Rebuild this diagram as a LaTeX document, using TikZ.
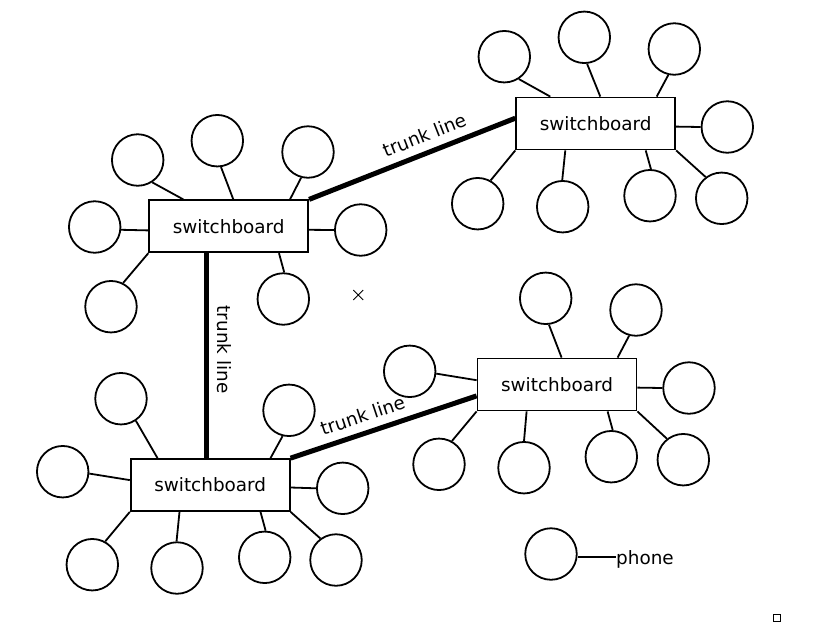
\documentclass[tikz,border=0pt]{standalone}
\usepackage{fontspec}
\setmainfont{DejaVu Sans}
\usetikzlibrary{calc,shapes.misc}
\tikzset{
  phone/.style={circle, draw, line width=1.8pt, minimum size=51.5pt, inner sep=0pt},
  sb/.style={rectangle, draw, line width=1.8pt, minimum width=159pt, minimum height=52pt, inner sep=0pt, font=\fontsize{18.4}{22}\selectfont},
  wire/.style={line width=1.8pt},
  trunk/.style={line width=5pt},
  tlabel/.style={font=\fontsize{18.4}{22}\selectfont, inner sep=8pt},
  lbl/.style={font=\fontsize{18.4}{22}\selectfont, inner sep=0pt},
}
\begin{document}
\begin{tikzpicture}[x=1pt,y=-1pt]
\useasboundingbox (0,0) rectangle (813,630);

% switchboards
\node[sb] (B1) at (228.7,226.3) {switchboard};
\node[sb] (B2) at (595.7,123.5) {switchboard};
\node[sb] (B3) at (210.2,485.0) {switchboard};
\node[sb] (B4) at (557.0,384.5) {switchboard};

% phones of B1
\node[phone] (p11) at (137.7,160.0) {};
\node[phone] (p12) at (217.3,140.7) {};
\node[phone] (p13) at (308.0,152.0) {};
\node[phone] (p14) at (94.7,227.0) {};
\node[phone] (p15) at (360.7,230.0) {};
\node[phone] (p16) at (111.0,306.7) {};
\node[phone] (p17) at (283.3,299.0) {};
\draw[wire] (p11.-57) -- ($(B1.north west)+(35,0)$);
\draw[wire] (p12.-82) -- ($(B1.north west)+(85,0)$);
\draw[wire] (p13.-105) -- ($(B1.north west)+(141.7,0)$);
\draw[wire] (p14.-6) -- ($(B1.north west)+(0,31)$);
\draw[wire] (p15.180) -- ($(B1.north east)+(0,30.4)$);
\draw[wire] (p16.63.5) -- (B1.south west);
\draw[wire] (p17.88) -- ($(B1.south west)+(130.7,0)$);

% phones of B2
\node[phone] (p21) at (504.3,56.7) {};
\node[phone] (p22) at (584.3,37.3) {};
\node[phone] (p23) at (674.3,49.0) {};
\node[phone] (p24) at (727.3,127.0) {};
\node[phone] (p25) at (477.7,203.7) {};
\node[phone] (p26) at (562.7,206.7) {};
\node[phone] (p27) at (650.0,195.7) {};
\node[phone] (p28) at (721.7,198.3) {};
\draw[wire] (p21.-57.4) -- ($(B2.north west)+(35,0)$);
\draw[wire] (p22.-84) -- ($(B2.north west)+(85,0)$);
\draw[wire] (p23.-103) -- ($(B2.north west)+(141.4,0)$);
\draw[wire] (p24.180) -- ($(B2.north east)+(0,30)$);
\draw[wire] (p25.61) -- (B2.south west);
\draw[wire] (p26.91) -- ($(B2.south west)+(50,0)$);
\draw[wire] (p27.88) -- ($(B2.south west)+(130.4,0)$);
\draw[wire] (p28.127.6) -- (B2.south east);

% phones of B3
\node[phone] (p31) at (121.0,398.7) {};
\node[phone] (p32) at (289.0,410.3) {};
\node[phone] (p33) at (62.7,471.7) {};
\node[phone] (p34) at (342.7,488.3) {};
\node[phone] (p35) at (92.3,564.7) {};
\node[phone] (p36) at (177.0,568.0) {};
\node[phone] (p37) at (264.7,557.3) {};
\node[phone] (p38) at (336.0,560.0) {};
\draw[wire] (p31.-56.4) -- ($(B3.north west)+(27.7,0)$);
\draw[wire] (p32.-104) -- ($(B3.north west)+(140.7,0)$);
\draw[wire] (p33.-4.3) -- ($(B3.north west)+(0,22)$);
\draw[wire] (p34.180) -- ($(B3.north east)+(0,29.4)$);
\draw[wire] (p35.61) -- (B3.south west);
\draw[wire] (p36.91.5) -- ($(B3.south west)+(49.7,0)$);
\draw[wire] (p37.88) -- ($(B3.south west)+(130.7,0)$);
\draw[wire] (p38.126) -- (B3.south east);

% phones of B4
\node[phone] (p41) at (545.7,298.3) {};
\node[phone] (p42) at (636.0,310.0) {};
\node[phone] (p43) at (409.7,371.3) {};
\node[phone] (p44) at (689.0,388.0) {};
\node[phone] (p45) at (439.0,464.3) {};
\node[phone] (p46) at (524.0,467.7) {};
\node[phone] (p47) at (611.3,456.7) {};
\node[phone] (p48) at (683.3,459.7) {};
\draw[wire] (p41.-83) -- ($(B4.north west)+(85,0)$);
\draw[wire] (p42.-105) -- ($(B4.north west)+(141,0)$);
\draw[wire] (p43.-5) -- ($(B4.north west)+(0,22.6)$);
\draw[wire] (p44.180) -- ($(B4.north east)+(0,30)$);
\draw[wire] (p45.61) -- (B4.south west);
\draw[wire] (p46.90.6) -- ($(B4.south west)+(50,0)$);
\draw[wire] (p47.87) -- ($(B4.south west)+(131,0)$);
\draw[wire] (p48.128) -- (B4.south east);

% trunk lines
\coordinate (t13) at ($(B3.north west)+(76.5,0)$);
\coordinate (t12) at ($(B2.north west)+(0,21.6)$);
\coordinate (t34) at ($(B4.north west)+(0,38.3)$);
\draw[trunk] (B1.north east) -- node[tlabel, pos=0.59, sloped, above] {trunk line} (t12);
\draw[trunk] (B1.south -| t13) -- node[tlabel, pos=0.47, rotate=-90, anchor=south] {trunk line} (t13);
\draw[trunk] (B3.north east) -- node[tlabel, pos=0.417, sloped, above] {trunk line} (t34);

% legend
\node[phone] (pl) at (551.0,554.0) {};
\node[lbl, anchor=west] (ph) at (616.0,559.0) {phone};
\draw[wire] (pl.-6) -- (pl.-6 -| ph.west);

% markers
\node[cross out, draw, line width=0.9pt, minimum size=9pt, inner sep=0pt] (mk1) at (358.3,295.0) {};
\node[rectangle, draw, line width=1.3pt, minimum size=7pt, inner sep=0pt] (mk2) at (777.3,618.0) {};
\end{tikzpicture}
\end{document}
